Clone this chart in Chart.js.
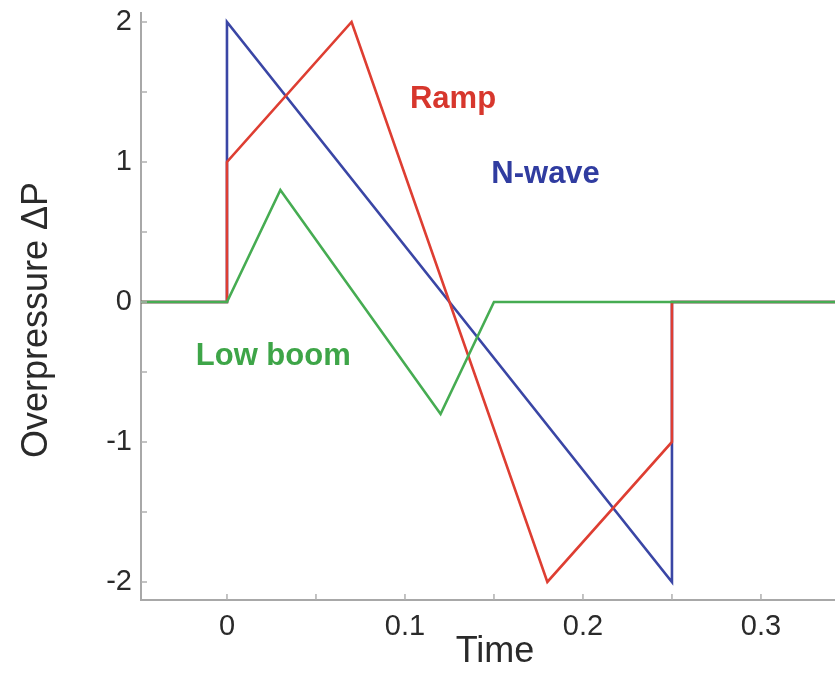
<!DOCTYPE html>
<html>
<head>
<meta charset="utf-8">
<script src="https://cdn.jsdelivr.net/npm/chart.js@4/dist/chart.umd.min.js"></script>
<style>
  html, body { margin: 0; padding: 0; background: #fff; }
  #wrap { width: 835px; height: 677px; }
</style>
</head>
<body>
<div id="wrap"><canvas id="c" width="835" height="677"></canvas></div>
<script>
// Sonic boom pressure signatures: overpressure vs. time
const nWaveT   = [-0.05, 0, 0, 0.25, 0.25, 0.35];
const nWaveP   = [0, 0, 2, -2, 0, 0];
const rampT    = [-0.05, 0, 0, 0.07, 0.18, 0.25, 0.25, 0.35];
const rampP    = [0, 0, 1, 2, -2, -1, 0, 0];
const lowBoomT = [-0.05, 0, 0.03, 0.12, 0.15, 0.35];
const lowBoomP = [0, 0, 0.8, -0.8, 0, 0];

const xTicks = [0, 0.1, 0.2, 0.3];
const xMinorTicks = [0.05, 0.15, 0.25];
const yTicks = [-2, -1, 0, 1, 2];
const yMinorTicks = [-1.5, -0.5, 0.5, 1.5];

const seriesNames = ['Low boom', 'Ramp', 'N-wave'];
const labelT = [0.026, 0.127, 0.179];
const labelP = [-0.39, 1.45, 0.91];

const RED = 'rgb(222,62,50)';
const BLUE = 'rgb(58,70,165)';
const GREEN = 'rgb(70,172,82)';
const colors = [GREEN, RED, BLUE];
const textColors = ['rgb(62,165,72)', 'rgb(215,55,45)', 'rgb(48,60,160)'];

const pts = (t, p) => t.map((v, i) => ({ x: v, y: p[i] }));

const FONT = '"Liberation Sans", Arial, sans-serif';

// Inward tick marks, axis titles and in-plot series names
const decorations = {
  id: 'decorations',
  afterDatasetsDraw(chart) {
    const { ctx, chartArea: a, scales: { x, y } } = chart;
    ctx.save();
    ctx.strokeStyle = '#b0b0b0';
    ctx.lineWidth = 1.5;
    ctx.beginPath();
    xTicks.concat(xMinorTicks).forEach(v => {
      const px = x.getPixelForValue(v);
      ctx.moveTo(px, a.bottom);
      ctx.lineTo(px, a.bottom - 6);
    });
    yTicks.concat(yMinorTicks).forEach(v => {
      const py = y.getPixelForValue(v);
      ctx.moveTo(a.left, py);
      ctx.lineTo(a.left + 6, py);
    });
    ctx.stroke();

    ctx.textAlign = 'center';
    ctx.textBaseline = 'middle';
    ctx.font = 'bold 31px ' + FONT;
    seriesNames.forEach((name, i) => {
      ctx.fillStyle = textColors[i];
      ctx.fillText(name, x.getPixelForValue(labelT[i]), y.getPixelForValue(labelP[i]));
    });

    ctx.fillStyle = '#2a2a2a';
    ctx.font = '36px ' + FONT;
    ctx.fillText('Time', 495, 652);
    ctx.translate(37, 320);
    ctx.rotate(-Math.PI / 2);
    ctx.fillText('Overpressure \u0394P', 0, 0);
    ctx.restore();
  }
};

new Chart(document.getElementById('c'), {
  type: 'line',
  data: {
    datasets: [
      { label: seriesNames[0], data: pts(lowBoomT, lowBoomP), borderColor: colors[0] },
      { label: seriesNames[1], data: pts(rampT, rampP), borderColor: colors[1] },
      { label: seriesNames[2], data: pts(nWaveT, nWaveP), borderColor: colors[2] }
    ].map(d => Object.assign(d, {
      borderWidth: 2.6, pointRadius: 0, tension: 0, fill: false,
      borderJoinStyle: 'miter', borderCapStyle: 'butt'
    }))
  },
  options: {
    responsive: false,
    animation: false,
    layout: { padding: { top: 13, left: 0, right: 0, bottom: 0 } },
    plugins: { legend: { display: false }, tooltip: { enabled: false } },
    scales: {
      x: {
        type: 'linear',
        min: -0.0483,
        max: 0.3416,
        afterBuildTicks: s => { s.ticks = xTicks.map(v => ({ value: v })); },
        afterFit: s => { s.height = 77; s.paddingLeft = 0; s.paddingRight = 0; },
        grid: { display: false, drawTicks: false },
        border: { display: true, color: '#a8a8a8', width: 2 },
        ticks: {
          padding: 10,
          color: '#2a2a2a',
          font: { family: FONT, size: 29 },
          maxRotation: 0,
          callback: v => String(v)
        }
      },
      y: {
        type: 'linear',
        min: -2.129,
        max: 2.064,
        afterBuildTicks: s => { s.ticks = yTicks.map(v => ({ value: v })); },
        afterFit: s => { s.width = 141; s.paddingTop = 0; s.paddingBottom = 0; },
        grid: { display: false, drawTicks: false },
        border: { display: true, color: '#a8a8a8', width: 2 },
        ticks: {
          padding: 9,
          color: '#2a2a2a',
          font: { family: FONT, size: 29 },
          callback: v => String(v)
        }
      }
    }
  },
  plugins: [decorations]
});
</script>
</body>
</html>
